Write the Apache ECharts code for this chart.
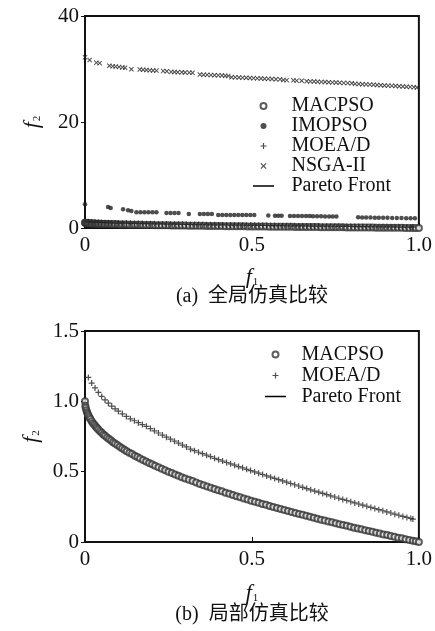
<!DOCTYPE html>
<html><head><meta charset="utf-8">
<script src="https://cdn.jsdelivr.net/npm/echarts@6/dist/echarts.min.js"></script>
<style>html,body{margin:0;padding:0;background:#fff}#c{width:435px;height:631px}</style>
</head><body><div id="c"></div>
<script>
// ---- data ----
const xTicks = ['0', '0.5', '1.0'];
const yTicksTop = ['0', '20', '40'];
const yTicksBottom = ['0', '0.5', '1.0', '1.5'];
const legendTop = ['MACPSO', 'IMOPSO', 'MOEA/D', 'NSGA-II', 'Pareto Front'];
const legendBottom = ['MACPSO', 'MOEA/D', 'Pareto Front'];
const captionTop = '(a)  全局仿真比较';
const captionBottom = '(b)  局部仿真比较';

const paretoFront = [[0,1],[0.0025,0.95],[0.01,0.9],[0.0225,0.85],[0.04,0.8],[0.0625,0.75],[0.09,0.7],[0.1225,0.65],[0.16,0.6],[0.2025,0.55],[0.25,0.5],[0.3025,0.45],[0.36,0.4],[0.4225,0.35],[0.49,0.3],[0.5625,0.25],[0.64,0.2],[0.7225,0.15],[0.81,0.1],[0.9025,0.05],[1,0]];

const macpso = [[0,1],[0.001,0.968],[0.002,0.955],[0.004,0.937],[0.006,0.923],[0.008,0.911],[0.01,0.9],[0.013,0.886],[0.016,0.874],[0.02,0.859],[0.024,0.845],[0.028,0.833],[0.032,0.821],[0.036,0.81],[0.04,0.8],[0.045,0.788],[0.05,0.776],[0.055,0.765],[0.06,0.755],[0.066,0.743],[0.072,0.732],[0.078,0.721],[0.084,0.71],[0.09,0.7],[0.097,0.689],[0.104,0.678],[0.111,0.667],[0.118,0.656],[0.125,0.646],[0.133,0.635],[0.141,0.625],[0.149,0.614],[0.157,0.604],[0.165,0.594],[0.174,0.583],[0.183,0.572],[0.192,0.562],[0.201,0.552],[0.21,0.542],[0.22,0.531],[0.23,0.52],[0.24,0.51],[0.25,0.5],[0.26,0.49],[0.27,0.48],[0.28,0.471],[0.29,0.461],[0.3,0.452],[0.311,0.442],[0.322,0.433],[0.333,0.423],[0.344,0.413],[0.355,0.404],[0.366,0.395],[0.377,0.386],[0.388,0.377],[0.399,0.368],[0.41,0.36],[0.421,0.351],[0.432,0.343],[0.443,0.334],[0.454,0.326],[0.465,0.318],[0.476,0.31],[0.487,0.302],[0.498,0.294],[0.509,0.287],[0.52,0.279],[0.531,0.271],[0.542,0.264],[0.553,0.256],[0.564,0.249],[0.575,0.242],[0.586,0.234],[0.597,0.227],[0.608,0.22],[0.619,0.213],[0.63,0.206],[0.641,0.199],[0.652,0.193],[0.663,0.186],[0.674,0.179],[0.685,0.172],[0.696,0.166],[0.707,0.159],[0.718,0.153],[0.729,0.146],[0.74,0.14],[0.751,0.133],[0.762,0.127],[0.773,0.121],[0.784,0.115],[0.795,0.108],[0.806,0.102],[0.817,0.096],[0.828,0.09],[0.839,0.084],[0.85,0.078],[0.861,0.072],[0.872,0.066],[0.883,0.06],[0.894,0.054],[0.905,0.049],[0.916,0.043],[0.927,0.037],[0.938,0.031],[0.949,0.026],[0.96,0.02],[0.971,0.015],[0.982,0.009],[0.991,0.005],[1,0]];

const moead = [[0.01,1.17],[0.02,1.13],[0.03,1.095],[0.04,1.063],[0.05,1.035],[0.06,1.01],[0.07,0.987],[0.08,0.966],[0.09,0.947],[0.1,0.93],[0.112,0.911],[0.124,0.893],[0.136,0.876],[0.148,0.862],[0.16,0.848],[0.172,0.835],[0.184,0.822],[0.196,0.806],[0.208,0.79],[0.22,0.775],[0.232,0.76],[0.244,0.745],[0.256,0.731],[0.268,0.717],[0.28,0.703],[0.292,0.689],[0.304,0.676],[0.316,0.66],[0.328,0.649],[0.34,0.638],[0.352,0.628],[0.364,0.617],[0.376,0.607],[0.388,0.595],[0.4,0.585],[0.412,0.575],[0.424,0.565],[0.436,0.556],[0.448,0.546],[0.46,0.536],[0.472,0.527],[0.484,0.517],[0.496,0.508],[0.508,0.498],[0.52,0.489],[0.532,0.48],[0.544,0.47],[0.556,0.461],[0.568,0.452],[0.58,0.443],[0.592,0.434],[0.604,0.425],[0.616,0.416],[0.628,0.407],[0.64,0.398],[0.652,0.389],[0.664,0.38],[0.676,0.371],[0.688,0.362],[0.7,0.354],[0.712,0.345],[0.724,0.337],[0.736,0.328],[0.748,0.32],[0.76,0.311],[0.772,0.303],[0.784,0.295],[0.796,0.286],[0.808,0.278],[0.82,0.27],[0.832,0.262],[0.844,0.254],[0.856,0.246],[0.868,0.238],[0.88,0.23],[0.892,0.222],[0.904,0.214],[0.916,0.206],[0.928,0.198],[0.94,0.19],[0.952,0.182],[0.964,0.175],[0.976,0.167],[0.982,0.163]];

const imopso = [[0,4.47],[0.069,3.97],[0.077,3.78],[0.114,3.53],[0.129,3.35],[0.139,3.21],[0.154,2.98],[0.166,2.97],[0.178,2.96],[0.19,2.96],[0.202,2.95],[0.214,2.95],[0.244,2.85],[0.256,2.84],[0.268,2.84],[0.28,2.83],[0.311,2.66],[0.344,2.64],[0.356,2.64],[0.368,2.63],[0.38,2.63],[0.399,2.47],[0.411,2.47],[0.423,2.46],[0.435,2.46],[0.447,2.45],[0.459,2.45],[0.471,2.45],[0.483,2.44],[0.495,2.44],[0.507,2.44],[0.549,2.34],[0.569,2.33],[0.579,2.33],[0.589,2.32],[0.614,2.27],[0.626,2.27],[0.638,2.26],[0.65,2.26],[0.662,2.25],[0.673,2.25],[0.683,2.21],[0.695,2.2],[0.707,2.2],[0.719,2.19],[0.731,2.19],[0.742,2.18],[0.753,2.18],[0.818,2.02],[0.83,1.98],[0.842,1.97],[0.855,1.96],[0.868,1.95],[0.88,1.94],[0.893,1.93],[0.906,1.92],[0.92,1.9],[0.934,1.88],[0.948,1.87],[0.962,1.86],[0.975,1.84],[0.988,1.83]];

const nsga2 = [[0,32.2],[0.014,31.7],[0.034,31.2],[0.044,31.1],[0.073,30.6],[0.083,30.5],[0.092,30.45],[0.102,30.4],[0.112,30.3],[0.12,30.25],[0.139,29.95],[0.164,29.9],[0.174,29.85],[0.184,29.8],[0.194,29.75],[0.204,29.72],[0.214,29.7],[0.234,29.6],[0.245,29.58],[0.258,29.45],[0.268,29.42],[0.278,29.4],[0.29,29.38],[0.3,29.35],[0.312,29.32],[0.322,29.3],[0.344,28.95],[0.355,28.92],[0.366,28.9],[0.377,28.85],[0.388,28.82],[0.399,28.8],[0.41,28.76],[0.42,28.73],[0.429,28.7],[0.439,28.45],[0.45,28.42],[0.461,28.4],[0.472,28.37],[0.483,28.34],[0.494,28.3],[0.505,28.27],[0.516,28.24],[0.527,28.2],[0.538,28.17],[0.549,28.14],[0.56,28.11],[0.572,28.08],[0.584,28.05],[0.594,27.92],[0.604,27.9],[0.624,27.86],[0.634,27.8],[0.649,27.77],[0.664,27.7],[0.675,27.66],[0.686,27.63],[0.697,27.6],[0.708,27.57],[0.719,27.54],[0.73,27.5],[0.741,27.47],[0.752,27.44],[0.763,27.41],[0.775,27.38],[0.787,27.34],[0.799,27.3],[0.809,27.2],[0.82,27.17],[0.831,27.13],[0.842,27.1],[0.853,27.06],[0.864,27.02],[0.875,26.98],[0.886,26.94],[0.897,26.9],[0.908,26.86],[0.919,26.82],[0.93,26.78],[0.941,26.74],[0.952,26.7],[0.963,26.66],[0.974,26.62],[0.985,26.58],[0.994,26.5]];

// ---- chart ----
const SERIF = 'Liberation Serif';
const PLUS = 'path://M4,0H6V4H10V6H6V10H4V6H0V4H4Z';
const CROSS = 'path://M0,1.4L1.4,0L5,3.6L8.6,0L10,1.4L6.4,5L10,8.6L8.6,10L5,6.4L1.4,10L0,8.6L3.6,5Z';
const LINEICON = 'path://M0,0H28V0.01H0Z M0,3.1H28V4.9H0Z M0,7.99H28V8H0Z';
const chart = echarts.init(document.getElementById('c'), null, {renderer: 'canvas'});

function fmt(list) { return v => { const i = list.findIndex(t => Math.abs(parseFloat(t) - v) < 1e-9); return i >= 0 ? list[i] : ''; }; }

const nameRich = {
  i: {fontFamily: SERIF, fontStyle: 'italic', fontSize: 22, color: '#111'},
  s: {fontFamily: SERIF, fontSize: 11, color: '#111', verticalAlign: 'bottom', padding: [8, 0, 0, 1]}
};

function xAxis(gi, gap) {
  return {
    type: 'value', gridIndex: gi, min: 0, max: 1, interval: 0.5,
    name: '{i|f}{s|1}', nameLocation: 'middle', nameGap: gap,
    nameTextStyle: {rich: nameRich},
    axisLine: {show: true, onZero: false, lineStyle: {color: '#111', width: 2}},
    axisTick: {show: true, inside: true, length: 5, lineStyle: {color: '#111', width: 1}},
    axisLabel: {formatter: fmt(xTicks), margin: 7, color: '#111', fontFamily: SERIF, fontSize: 21},
    splitLine: {show: false}
  };
}
function yAxis(gi, max, interval, ticks) {
  return {
    type: 'value', gridIndex: gi, min: 0, max: max, interval: interval,
    name: '{i|f}{s|2}', nameLocation: 'middle', nameGap: 42, nameRotate: 90,
    nameTextStyle: {rich: nameRich},
    axisLine: {show: true, onZero: false, lineStyle: {color: '#111', width: 2}},
    axisTick: {show: true, inside: false, length: 4, lineStyle: {color: '#111', width: 1}},
    axisLabel: {formatter: fmt(ticks), margin: 6, color: '#111', fontFamily: SERIF, fontSize: 21},
    splitLine: {show: false}
  };
}

function seriesFor(gi, name, data, kind) {
  const base = {name: name, xAxisIndex: gi, yAxisIndex: gi, data: data, animation: false, silent: true};
  if (kind === 'line') return Object.assign(base, {type: 'line', symbol: 'none', showSymbol: false, smooth: 0.3, z: 1,
    lineStyle: {color: '#000', width: 1.6}, itemStyle: {color: '#000'}});
  if (kind === 'circle') return Object.assign(base, {type: 'scatter', symbol: 'emptyCircle', symbolSize: 6, z: 3,
    itemStyle: {color: '#333', borderColor: '#333', borderWidth: 1}});
  if (kind === 'dot') return Object.assign(base, {type: 'scatter', symbol: 'circle', symbolSize: 4.5, z: 3,
    itemStyle: {color: '#222'}});
  if (kind === 'plus') return Object.assign(base, {type: 'scatter', symbol: PLUS, symbolSize: 6, z: 3,
    itemStyle: {color: '#222'}});
  if (kind === 'cross') return Object.assign(base, {type: 'scatter', symbol: CROSS, symbolSize: 5, z: 3,
    itemStyle: {color: '#222'}});
}

const legendText = {fontFamily: SERIF, fontSize: 20, color: '#111'};
const icons = {'MACPSO': 'emptyCircle', 'IMOPSO': 'circle', 'MOEA/D': PLUS, 'NSGA-II': CROSS, 'Pareto Front': LINEICON};

function legendData(names) {
  return names.map(n => n === 'Pareto Front'
    ? {name: n, icon: LINEICON, itemStyle: {color: '#000'}}
    : {name: n, icon: icons[n]});
}

chart.setOption({
  backgroundColor: '#fff',
  animation: false,
  grid: [
    {left: 85, right: 16, top: 16, height: 212, show: true, borderColor: '#111', borderWidth: 2, backgroundColor: 'transparent'},
    {left: 85, right: 16, top: 331, height: 211, show: true, borderColor: '#111', borderWidth: 2, backgroundColor: 'transparent'}
  ],
  xAxis: [xAxis(0, 38), xAxis(1, 40)],
  yAxis: [yAxis(0, 40, 20, yTicksTop), yAxis(1, 1.5, 0.5, yTicksBottom)],
  legend: [
    {orient: 'vertical', left: 253, top: 96, padding: 0, itemGap: 0, itemWidth: 28, itemHeight: 6,
     data: legendData(legendTop), textStyle: Object.assign({lineHeight: 20, height: 20, padding: [0, 0, 0, 9]}, legendText),
     selectedMode: false},
    {orient: 'vertical', left: 265, top: 344, padding: 0, itemGap: 0, itemWidth: 28, itemHeight: 6,
     data: legendData(legendBottom), textStyle: Object.assign({lineHeight: 21, height: 21, padding: [0, 0, 0, 7]}, legendText),
     selectedMode: false}
  ],
  series: [
    seriesFor(0, 'Pareto Front', paretoFront, 'line'),
    seriesFor(0, 'MACPSO', macpso, 'circle'),
    seriesFor(0, 'IMOPSO', imopso, 'dot'),
    seriesFor(0, 'MOEA/D', moead, 'plus'),
    seriesFor(0, 'NSGA-II', nsga2, 'cross'),
    seriesFor(1, 'Pareto Front', paretoFront, 'line'),
    seriesFor(1, 'MACPSO', macpso, 'circle'),
    seriesFor(1, 'MOEA/D', moead, 'plus')
  ],
  graphic: [
    {type: 'text', x: 252, y: 297, style: {text: captionTop, font: '20px "Liberation Serif","Noto Sans CJK SC"', fill: '#111', textAlign: 'center', textVerticalAlign: 'middle'}},
    {type: 'text', x: 252, y: 615, style: {text: captionBottom, font: '20px "Liberation Serif","Noto Sans CJK SC"', fill: '#111', textAlign: 'center', textVerticalAlign: 'middle'}}
  ]
});
</script>
</body></html>
